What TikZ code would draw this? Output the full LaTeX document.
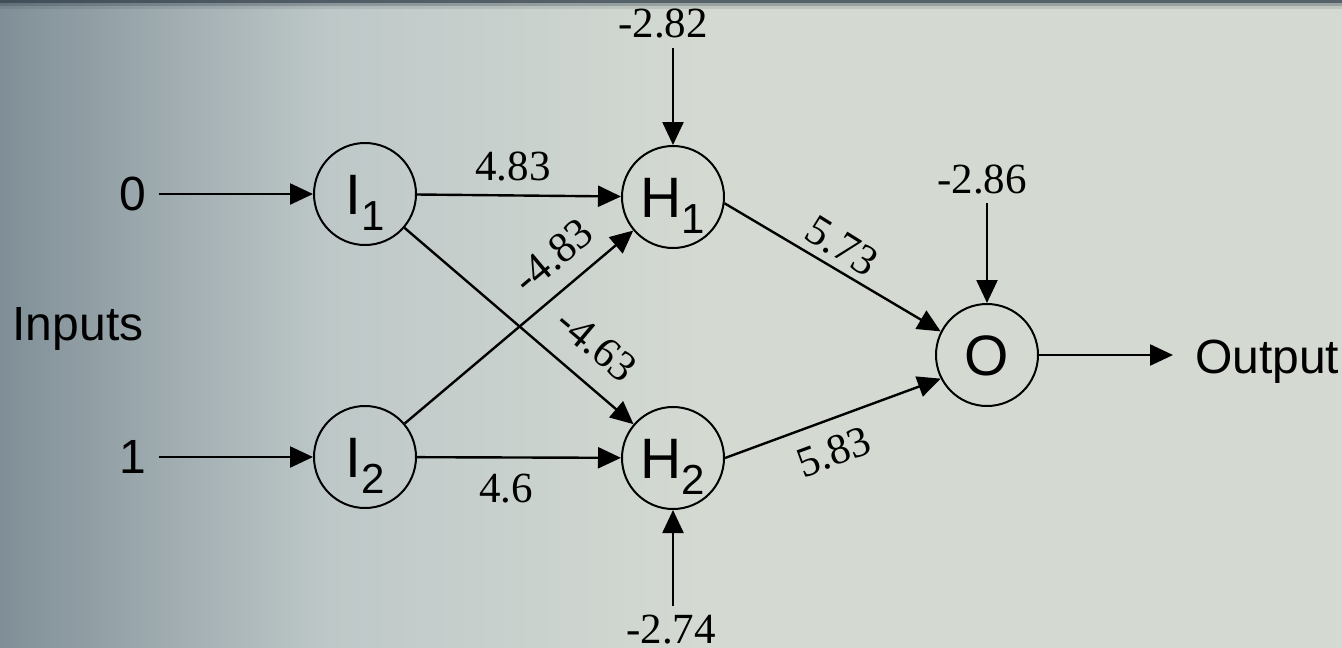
\documentclass[tikz,border=0pt]{standalone}
\usepackage{fontspec}
\setmainfont{Liberation Serif}
\setsansfont{Liberation Sans}
\usetikzlibrary{arrows.meta}
\definecolor{bgleft}{RGB}{128,143,151}
\definecolor{bgmid}{RGB}{190,200,200}
\definecolor{bgright}{RGB}{212,218,210}
\definecolor{bandc}{RGB}{45,58,70}
\newcommand\nsub[1]{\raisebox{-16pt}{\fontsize{42}{44}\selectfont #1}}
\begin{document}
\begin{tikzpicture}[x=1pt,y=-1pt,
  neuron/.style={circle,draw,line width=2pt,minimum size=102pt,inner sep=0pt,
    text height=40pt,text depth=0pt,font=\sffamily\fontsize{57}{60}\selectfont},
  arr/.style={line width=2.4pt,-{Triangle[length=23pt,width=21pt]}},
  wt/.style={font=\fontsize{43}{46}\selectfont,inner sep=0pt},
  lbl/.style={font=\sffamily\fontsize{48}{52}\selectfont,inner sep=0pt}]
% background
\useasboundingbox (0,0) rectangle (1342,648);
\fill[bgright] (0,0) rectangle (1342,648);
\shade[left color=bgleft,right color=bgmid] (0,0) rectangle (330,648);
\shade[left color=bgmid,right color=bgright] (330,0) rectangle (700,648);
\fill[bandc,opacity=0.75] (0,0) rectangle (1342,3);
\fill[bandc,opacity=0.35] (0,3) rectangle (1342,6);
\fill[bandc,opacity=0.12] (0,6) rectangle (1342,9);
% neurons
\node[neuron] (I1) at (365,194) {I\nsub{1}};
\node[neuron] (I2) at (365,457) {I\nsub{2}};
\node[neuron] (H1) at (673,197) {H\nsub{1}};
\node[neuron] (H2) at (673,458) {H\nsub{2}};
\node[neuron] (O) at (987,355) {O};
% inputs and output
\node[lbl] (x0) at (133,194) {0};
\node[lbl] (x1) at (133,457) {1};
\node[lbl,anchor=base] (inp) at (78,340) {Inputs};
\node[lbl,anchor=base west] (out) at (1195,373) {Output};
\draw[arr,shorten <=12pt] (x0) -- (I1);
\draw[arr,shorten <=12pt] (x1) -- (I2);
\draw[arr,shorten >=22pt] (O) -- (O -| out.west);
% hidden connections
\draw[arr] (I1) -- (H1);
\draw[arr] (I1) -- (H2);
\draw[arr] (I2) -- (H1);
\draw[arr] (I2) -- (H2);
\draw[arr] (H1.-7) -- (O.153);
\draw[arr] (H2.0) -- (O.207);
% biases
\node[wt,anchor=base] (b1) at (663,37) {-2.82};
\node[wt,anchor=base] (b2) at (982,193) {-2.86};
\node[wt,anchor=base] (b3) at (671,643) {-2.74};
\draw[arr,shorten <=10pt] (b1.south -| H1) -- (H1);
\draw[arr,shorten <=9pt] (b2.south -| O) -- (O);
\draw[arr,shorten <=8pt] (b3.north -| H2) -- (H2);
% weights
\node[wt,anchor=base] (w1) at (513,180) {4.83};
\node[wt,anchor=base] (w2) at (506,502) {4.6};
\node[wt,rotate=40] (w3) at (553,256) {-4.83};
\node[wt,rotate=-40] (w4) at (597,345) {-4.63};
\node[wt,rotate=-32] (w5) at (842,246) {5.73};
\node[wt,rotate=20] (w6) at (834,452) {5.83};
\end{tikzpicture}
\end{document}
